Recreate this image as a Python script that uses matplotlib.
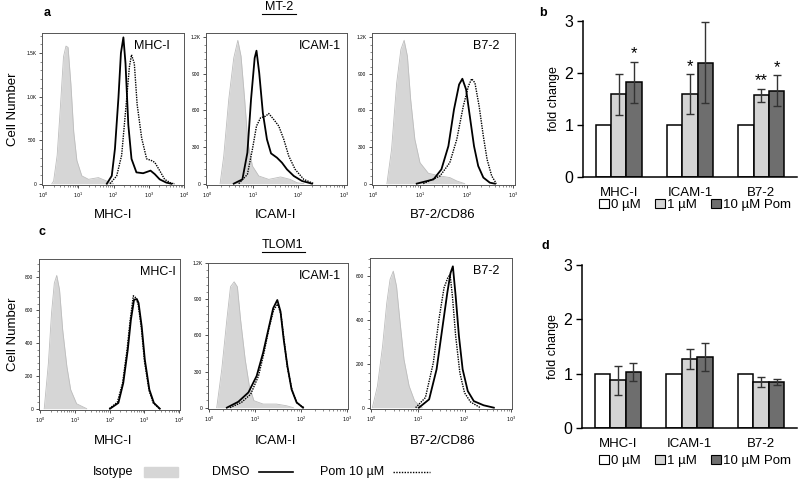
import matplotlib
matplotlib.use("Agg")
import matplotlib.pyplot as plt
from matplotlib.ticker import FixedLocator, AutoMinorLocator
from matplotlib.lines import Line2D
from matplotlib.patches import Patch, Rectangle
import numpy as np

plt.rcParams['font.family'] = ['Liberation Sans', 'DejaVu Sans']

# ---- flow histograms: x = log10 fluorescence, y = cell count ----
# MT-2, MHC-I
a1_iso_x = [0.25, 0.30, 0.40, 0.49, 0.58, 0.65, 0.71, 0.79, 0.87, 0.96, 1.10, 1.29, 1.57, 1.81, 2.00]
a1_iso_y = [0, 30, 325, 870, 1457, 1580, 1565, 1144, 598, 266, 90, 50, 70, 30, 0]
a1_dmso_x = [1.81, 1.95, 2.04, 2.14, 2.21, 2.28, 2.34, 2.42, 2.51, 2.65, 2.84, 3.05, 3.17, 3.31, 3.50, 3.64]
a1_dmso_y = [0, 90, 400, 990, 1500, 1680, 1380, 675, 285, 130, 120, 150, 110, 50, 12, 0]
a1_pom_x = [1.90, 2.09, 2.23, 2.35, 2.45, 2.51, 2.59, 2.67, 2.80, 2.94, 3.08, 3.17, 3.31, 3.45, 3.64, 3.74]
a1_pom_y = [0, 90, 325, 870, 1340, 1480, 1380, 910, 520, 285, 265, 245, 150, 50, 4, 0]
# MT-2, ICAM-1
a2_iso_x = [0.28, 0.36, 0.47, 0.58, 0.67, 0.74, 0.82, 0.89, 0.99, 1.13, 1.35, 1.61, 1.82, 1.97, 2.12]
a2_iso_y = [0, 226, 690, 1030, 1175, 1045, 690, 340, 145, 63, 35, 55, 35, 8, 0]
a2_dmso_x = [0.58, 0.77, 0.88, 0.96, 1.04, 1.08, 1.14, 1.22, 1.31, 1.40, 1.53, 1.64, 1.75, 1.90, 2.08, 2.30]
a2_dmso_y = [0, 35, 254, 690, 1030, 1090, 908, 580, 363, 248, 213, 172, 117, 63, 22, 0]
a2_pom_x = [0.69, 0.88, 0.99, 1.08, 1.17, 1.28, 1.35, 1.46, 1.57, 1.68, 1.79, 1.93, 2.12, 2.34]
a2_pom_y = [0, 76, 281, 472, 540, 553, 575, 526, 472, 363, 226, 117, 35, 0]
# MT-2, B7-2
a3_iso_x = [0.29, 0.39, 0.50, 0.59, 0.66, 0.73, 0.80, 0.89, 1.00, 1.18, 1.43, 1.64, 1.79, 1.96]
a3_iso_y = [0, 281, 826, 1100, 1175, 1045, 690, 363, 172, 85, 63, 50, 22, 0]
a3_dmso_x = [0.93, 1.29, 1.46, 1.61, 1.73, 1.84, 1.91, 1.99, 2.07, 2.16, 2.25, 2.36, 2.50, 2.61]
a3_dmso_y = [0, 35, 117, 308, 608, 813, 860, 772, 553, 308, 145, 50, 8, 0]
a3_pom_x = [1.07, 1.43, 1.64, 1.79, 1.93, 2.04, 2.11, 2.18, 2.27, 2.36, 2.44, 2.54, 2.64]
a3_pom_y = [0, 63, 172, 363, 635, 800, 860, 826, 635, 390, 200, 63, 0]
# TLOM1, MHC-I
c1_iso_x = [0.12, 0.24, 0.33, 0.41, 0.48, 0.56, 0.65, 0.77, 0.88, 1.05, 1.34]
c1_iso_y = [0, 278, 583, 765, 812, 725, 481, 258, 116, 30, 0]
c1_dmso_x = [2.01, 2.25, 2.39, 2.52, 2.61, 2.70, 2.78, 2.83, 2.92, 3.01, 3.14, 3.27, 3.44]
c1_dmso_y = [0, 35, 156, 360, 542, 664, 668, 644, 501, 298, 116, 35, 0]
c1_pom_x = [1.99, 2.22, 2.37, 2.50, 2.59, 2.68, 2.76, 2.82, 2.91, 3.00, 3.13, 3.25, 3.43]
c1_pom_y = [0, 39, 156, 360, 542, 688, 674, 633, 491, 288, 112, 35, 0]
# TLOM1, ICAM-1
c2_iso_x = [0.16, 0.27, 0.38, 0.46, 0.54, 0.61, 0.68, 0.78, 0.87, 0.97, 1.17, 1.46, 1.68, 1.83]
c2_iso_y = [0, 318, 729, 1003, 1044, 1003, 729, 400, 181, 58, 30, 30, 16, 0]
c2_dmso_x = [0.38, 0.63, 0.85, 1.03, 1.17, 1.30, 1.39, 1.48, 1.55, 1.62, 1.70, 1.79, 1.90, 2.04]
c2_dmso_y = [0, 49, 126, 263, 455, 674, 825, 893, 797, 564, 345, 153, 44, 0]
c2_pom_x = [0.45, 0.70, 0.90, 1.07, 1.19, 1.30, 1.40, 1.49, 1.56, 1.63, 1.70, 1.80, 1.91, 2.06]
c2_pom_y = [0, 44, 112, 263, 455, 660, 811, 860, 770, 551, 332, 148, 38, 0]
# TLOM1, B7-2
c3_iso_x = [0.02, 0.13, 0.24, 0.33, 0.40, 0.47, 0.54, 0.61, 0.70, 0.81, 0.93, 1.09]
c3_iso_y = [0, 99, 281, 478, 585, 623, 554, 402, 220, 99, 30, 0]
c3_dmso_x = [1.02, 1.24, 1.40, 1.52, 1.63, 1.70, 1.75, 1.81, 1.88, 1.96, 2.07, 2.20, 2.41, 2.63]
c3_dmso_y = [0, 38, 175, 357, 524, 615, 645, 509, 327, 175, 76, 30, 11, 0]
c3_pom_x = [0.95, 1.16, 1.33, 1.45, 1.56, 1.64, 1.69, 1.74, 1.81, 1.90, 2.00, 2.13, 2.34]
c3_pom_y = [0, 46, 205, 402, 547, 592, 608, 509, 327, 159, 68, 26, 0]

# ---- fold change bars ----
markers = ['MHC-I', 'ICAM-1', 'B7-2']
doses = ['0 µM', '1 µM', '10 µM Pom']
mt2_fold = [[1, 1, 1], [1.59, 1.59, 1.57], [1.82, 2.20, 1.66]]
mt2_err = [[0, 0, 0], [0.39, 0.385, 0.13], [0.40, 0.78, 0.30]]
mt2_stars = [['', '', ''], ['', '*', '**'], ['*', '', '*']]
tlom_fold = [[1, 1, 1], [0.88, 1.27, 0.85], [1.03, 1.31, 0.85]]
tlom_err = [[0, 0, 0], [0.27, 0.19, 0.09], [0.16, 0.26, 0.055]]

W, H = 800, 482
fig = plt.figure(figsize=(8, 4.82), dpi=100)

def px(l, t, r, b):
    return [l / W, 1 - b / H, (r - l) / W, (b - t) / H]

iso_fill = '#d6d6d6'
iso_edge = '#bdbdbd'

def flow_panel(rect, iso, dmso, pom, xmax, ylim, yticks, ylabels, name, right):
    ax = fig.add_axes(px(*rect))
    ax.fill_between(iso[0], iso[1], color=iso_fill, lw=0)
    ax.plot(iso[0], iso[1], color=iso_edge, lw=0.6)
    ax.plot(dmso[0], dmso[1], color='black', lw=1.3)
    ax.plot(pom[0], pom[1], color='black', lw=1.0, ls=(0, (1, 0.8)))
    ax.set_xlim(-0.03, xmax)
    ax.set_ylim(*ylim)
    dec = list(range(int(np.floor(xmax)) + 1))
    ax.set_xticks(dec)
    ax.set_xticklabels(['$10^{%d}$' % d for d in dec], fontsize=3.5)
    minors = [d + np.log10(m) for d in dec for m in range(2, 10) if d + np.log10(m) < xmax]
    ax.xaxis.set_minor_locator(FixedLocator(minors))
    ax.set_yticks(yticks)
    ax.set_yticklabels(ylabels, fontsize=3.5)
    ax.yaxis.set_minor_locator(AutoMinorLocator(5))
    ax.tick_params(which='major', length=2.5, width=0.6, pad=1.5, color='#333333')
    ax.tick_params(which='minor', length=1.3, width=0.4, color='#333333')
    for s in ax.spines.values():
        s.set_color('#555555')
        s.set_linewidth(0.7)
    ax.text(right, 0.955, name, transform=ax.transAxes, ha='right', va='top', fontsize=9)
    return ax

k12 = [0, 300, 600, 900, 1200]
k12l = ['0', '300', '600', '900', '1.2K']
flow_panel((42, 33, 184, 185), (a1_iso_x, a1_iso_y), (a1_dmso_x, a1_dmso_y), (a1_pom_x, a1_pom_y),
           4.0, (-15, 1730), [0, 500, 1000, 1500], ['0', '500', '1.0K', '1.5K'], 'MHC-I', 0.9)
flow_panel((206, 33, 347, 185), (a2_iso_x, a2_iso_y), (a2_dmso_x, a2_dmso_y), (a2_pom_x, a2_pom_y),
           3.07, (-11, 1235), k12, k12l, 'ICAM-1', 0.96)
flow_panel((372, 33, 515, 185), (a3_iso_x, a3_iso_y), (a3_dmso_x, a3_dmso_y), (a3_pom_x, a3_pom_y),
           3.04, (-11, 1235), k12, k12l, 'B7-2', 0.89)
flow_panel((39, 259, 180, 410), (c1_iso_x, c1_iso_y), (c1_dmso_x, c1_dmso_y), (c1_pom_x, c1_pom_y),
           4.02, (-8, 912), [0, 200, 400, 600, 800], ['0', '200', '400', '600', '800'], 'MHC-I', 0.97)
flow_panel((208, 263, 348, 409), (c2_iso_x, c2_iso_y), (c2_dmso_x, c2_dmso_y), (c2_pom_x, c2_pom_y),
           3.02, (-11, 1200), k12, k12l, 'ICAM-1', 0.95)
flow_panel((370, 258, 512, 409), (c3_iso_x, c3_iso_y), (c3_dmso_x, c3_dmso_y), (c3_pom_x, c3_pom_y),
           3.02, (-6, 683), [0, 200, 400, 600], ['0', '200', '400', '600'], 'B7-2', 0.91)

bar_colors = ['white', '#d4d4d4', '#6e6e6e']

def bar_panel(rect, fold, err, stars, legend_y):
    ax = fig.add_axes(px(*rect))
    x = np.arange(len(markers))
    w = 0.215
    for i in range(3):
        ax.bar(x + (i - 1) * w, fold[i], w, color=bar_colors[i], edgecolor='black', lw=1.1, zorder=2)
        if i > 0:
            ax.errorbar(x + (i - 1) * w, fold[i], yerr=err[i], fmt='none', ecolor='#333333',
                        elinewidth=1.0, capsize=3.2, capthick=1.0, zorder=3)
            if stars is not None:
                for j in range(3):
                    if stars[i][j]:
                        ax.text(x[j] + (i - 1) * w, fold[i][j] + err[i][j], stars[i][j],
                                ha='center', va='bottom', fontsize=12)
    ax.set_xlim(-0.5, 2.5)
    ax.set_ylim(0, 3)
    ax.set_yticks([0, 1, 2, 3])
    ax.tick_params(axis='y', labelsize=11.5, length=4, width=1.0, pad=3)
    ax.set_xticks(x)
    ax.set_xticklabels(markers, fontsize=9.5)
    ax.tick_params(axis='x', length=0, pad=7)
    for s in ['top', 'right']:
        ax.spines[s].set_visible(False)
    for s in ['left', 'bottom']:
        ax.spines[s].set_linewidth(1.1)
    ax.set_ylabel('fold change', fontsize=9, labelpad=3)
    handles = [Patch(facecolor=c, edgecolor='black', lw=0.8) for c in bar_colors]
    ax.legend(handles, doses, loc='center', bbox_to_anchor=(0.869, legend_y),
              bbox_transform=fig.transFigure, ncol=3, frameon=False, fontsize=9.5,
              handlelength=0.75, handleheight=0.75, handletextpad=0.15, columnspacing=1.1,
              borderpad=0)
    return ax

bar_panel((583, 21, 797, 177), mt2_fold, mt2_err, mt2_stars, 1 - 205 / H)
bar_panel((582, 265, 797, 428), tlom_fold, tlom_err, None, 1 - 461 / H)

# ---- text and labels ----
for lab, xx, yy in [('a', 47, 13), ('b', 543, 13), ('c', 42, 232), ('d', 545, 246)]:
    fig.text(xx / W, 1 - yy / H, lab, fontsize=9, fontweight='bold', ha='center', va='center')

for t, xx, yy in [('MT-2', 279, 7), ('TLOM1', 283, 245)]:
    fig.text(xx / W, 1 - yy / H, t, fontsize=9, ha='center', va='center')
    hw = 4.3 * len(t)
    fig.add_artist(Line2D([(xx - hw) / W, (xx + hw) / W], [1 - (yy + 7) / H] * 2,
                          color='black', lw=0.8))

for yy in [109, 334]:
    fig.text(13 / W, 1 - yy / H, 'Cell Number', fontsize=9.5, rotation=90, ha='center', va='center')

for t, xx in [('MHC-I', 113), ('ICAM-I', 276), ('B7-2/CD86', 443)]:
    fig.text(xx / W, 1 - 215 / H, t, fontsize=9.5, ha='center', va='center')
    fig.text(xx / W, 1 - 441 / H, t, fontsize=9.5, ha='center', va='center')

# histogram legend
ly = 1 - 472 / H
fig.text(113 / W, ly, 'Isotype', fontsize=9, ha='center', va='center')
fig.add_artist(Rectangle((144 / W, ly - 5 / H), 34 / W, 10 / H, color=iso_fill, transform=fig.transFigure))
fig.text(231 / W, ly, 'DMSO', fontsize=9, ha='center', va='center')
fig.add_artist(Line2D([259 / W, 293 / W], [ly, ly], color='black', lw=1.2))
fig.text(352 / W, ly, 'Pom 10 µM', fontsize=9, ha='center', va='center')
fig.add_artist(Line2D([393 / W, 430 / W], [ly, ly], color='black', lw=1.0, ls=(0, (1, 1))))

fig.savefig('out.png', dpi=100)
